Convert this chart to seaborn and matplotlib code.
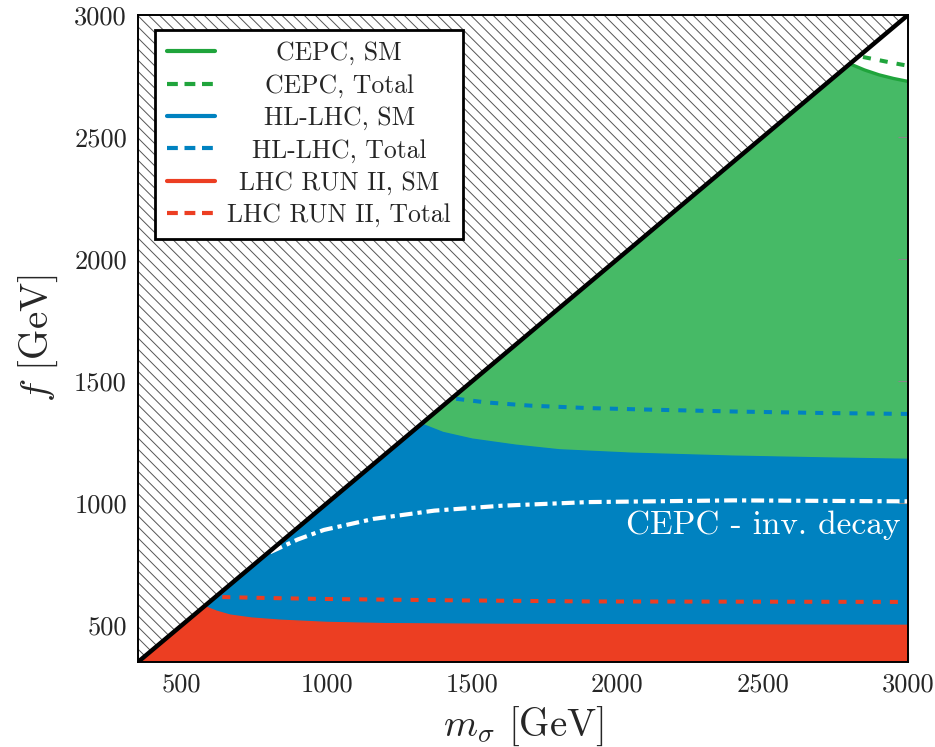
import numpy as np
import pandas as pd
import matplotlib
matplotlib.use("Agg")
import matplotlib.pyplot as plt
import seaborn as sns
from matplotlib.lines import Line2D
from matplotlib.transforms import Bbox

# ---------------- data ----------------
cepc_sm_m = [2800, 2850, 2900, 2950, 3000]
cepc_sm_f = [2800, 2775, 2755, 2740, 2728]
cepc_tot_m = [2845, 2900, 2950, 3000]
cepc_tot_f = [2828, 2815, 2803, 2792]

hl_sm_m = [1325, 1400, 1500, 1650, 1800, 2050, 2400, 2700, 3000]
hl_sm_f = [1325, 1290, 1263, 1238, 1219, 1205, 1193, 1186, 1180]
hl_tot_m = [1445, 1550, 1700, 1900, 2100, 2400, 2700, 3000]
hl_tot_f = [1428, 1413, 1400, 1390, 1384, 1376, 1370, 1366]

lhc_sm_m = [578, 620, 667, 740, 840, 1000, 1200, 1600, 2200, 3000]
lhc_sm_f = [578, 558, 542, 530, 521, 512, 507, 504, 502, 500]
lhc_tot_m = [640, 800, 1000, 1400, 1900, 2500, 3000]
lhc_tot_f = [616, 612, 608, 603, 598, 597, 596]

inv_m = [805, 900, 990, 1160, 1370, 1600, 1900, 2400, 3000]
inv_f = [800, 852, 891, 936, 970, 990, 1005, 1012, 1008]

xlim = (350, 3000)
ylim = (350, 3000)
xticks = [500, 1000, 1500, 2000, 2500, 3000]
yticks = [500, 1000, 1500, 2000, 2500, 3000]

labels = ["CEPC, SM", "CEPC, Total", "HL-LHC, SM", "HL-LHC, Total",
          "LHC RUN II, SM", "LHC RUN II, Total"]

# ---------------- style ----------------
sns.set_theme(style="ticks")
plt.rcParams["font.family"] = ["cmr10", "DejaVu Serif"]
plt.rcParams["mathtext.fontset"] = "cm"
plt.rcParams["axes.unicode_minus"] = False
plt.rcParams["axes.formatter.use_mathtext"] = True
plt.rcParams["hatch.color"] = "#555555"
plt.rcParams["hatch.linewidth"] = 0.7

GREEN_FILL = "#46BA66"
GREEN_LINE = "#20A43C"
BLUE = "#0082C0"
RED = "#EC3E22"

fig = plt.figure(figsize=(9.35, 7.47), dpi=100)
ax = fig.add_axes([138 / 935, 1 - 662 / 747, 770 / 935, 647 / 747])
ax.set_facecolor("white")

# fills (layered)
corner = xlim[0]
ax.fill([corner] + cepc_sm_m + [3000], [corner] + cepc_sm_f + [corner],
        color=GREEN_FILL, lw=0, zorder=1)
ax.fill([corner] + hl_sm_m + [3000], [corner] + hl_sm_f + [corner],
        color=BLUE, lw=0, zorder=2)
ax.fill([corner] + lhc_sm_m + [3000], [corner] + lhc_sm_f + [corner],
        color=RED, lw=0, zorder=3)

# hatched excluded region above the diagonal
ax.fill([xlim[0], xlim[1], xlim[0]], [ylim[0], ylim[1], ylim[1]],
        facecolor="white", edgecolor="#555555", hatch="\\\\\\", lw=0, zorder=4)

# boundary lines
def draw(m, f, color, ls, lw, z):
    df = pd.DataFrame({"m": m, "f": f})
    sns.lineplot(data=df, x="m", y="f", ax=ax, color=color, linestyle=ls,
                 lw=lw, zorder=z, sort=False, estimator=None)
    ax.lines[-1].set_dash_capstyle("butt")

DASH = (0, (2.0, 2.25))
draw(cepc_sm_m, cepc_sm_f, GREEN_LINE, "-", 2.4, 5)
draw(hl_sm_m, hl_sm_f, BLUE, "-", 1.0, 5)
draw(lhc_sm_m, lhc_sm_f, RED, "-", 1.0, 5)
draw(cepc_tot_m, cepc_tot_f, GREEN_LINE, DASH, 2.9, 6)
draw(hl_tot_m, hl_tot_f, BLUE, DASH, 2.9, 6)
draw(lhc_tot_m, lhc_tot_f, RED, DASH, 2.9, 6)
draw(inv_m, inv_f, "white", (0, (3.1, 1.2, 1.0, 1.2)), 3.0, 6)

# diagonal f = m
sns.lineplot(x=list(xlim), y=list(ylim), ax=ax, color="black", lw=3.2,
             zorder=7, estimator=None)

ax.text(2975, 910, "CEPC - inv. decay", color="white", fontsize=24,
        ha="right", va="center", zorder=8)

ax.set_xlim(*xlim)
ax.set_ylim(*ylim)
ax.set_xticks(xticks)
ax.set_yticks(yticks)
ax.set_xticklabels([str(t) for t in xticks])
ax.set_yticklabels([str(t) for t in yticks])
ax.tick_params(axis="both", which="major", direction="in", length=7,
               width=0.8, color="#888888", labelsize=19, top=True,
               right=True, pad=8)
for s in ax.spines.values():
    s.set_linewidth(1.4)
    s.set_color("black")
    s.set_zorder(10)
ax.set_axisbelow(False)

ax.set_xlabel(r"$m_\sigma$ [GeV]", fontsize=28, labelpad=6)
ax.set_ylabel(r"$f$ [GeV]", fontsize=28, labelpad=10)

LDASH = (0, (2.6, 1.6))
handles = [
    Line2D([], [], color=GREEN_LINE, lw=3.0, ls="-"),
    Line2D([], [], color=GREEN_LINE, lw=3.0, ls=LDASH),
    Line2D([], [], color=BLUE, lw=3.0, ls="-"),
    Line2D([], [], color=BLUE, lw=3.0, ls=LDASH),
    Line2D([], [], color=RED, lw=3.0, ls="-"),
    Line2D([], [], color=RED, lw=3.0, ls=LDASH),
]
leg = ax.legend(handles, labels, loc="upper left",
                bbox_to_anchor=(0.022, 0.977), fontsize=18.5,
                frameon=True, fancybox=False, framealpha=1,
                edgecolor="black", handlelength=1.87, handletextpad=0.5,
                labelspacing=0.33, borderpad=0.45, borderaxespad=0)
leg.get_frame().set_linewidth(2.0)
leg.set_zorder(20)

# centre the legend labels within their column
try:
    textboxes = []
    for col in leg._legend_handle_box.get_children():
        for row in col.get_children():
            textboxes.append(row.get_children()[1])
    origs = [tb.get_bbox for tb in textboxes]
    for tb in textboxes:
        tb._text.set_horizontalalignment("center")

    def make_bbox(orig):
        def new_bbox(renderer):
            bb = orig(renderer)
            W = max(o(renderer).width for o in origs)
            return Bbox.from_bounds(-W / 2, bb.y0, W, bb.height)
        return new_bbox

    for tb, o in zip(textboxes, origs):
        tb.get_bbox = make_bbox(o)
except Exception:
    pass

fig.savefig("out.png", dpi=100)
